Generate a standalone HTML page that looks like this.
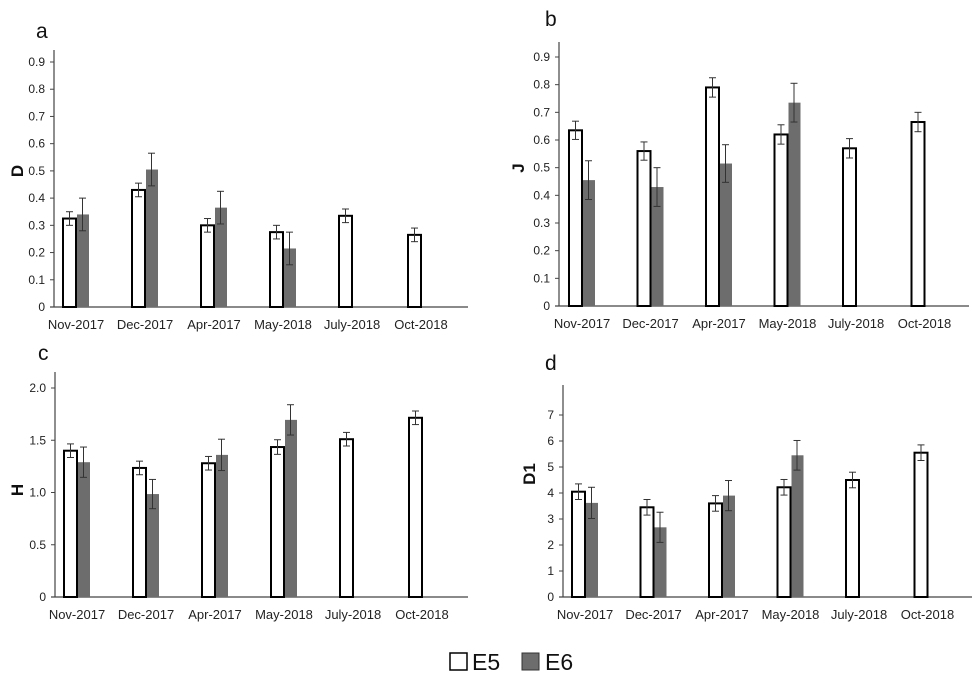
<!DOCTYPE html>
<html><head><meta charset="utf-8"><style>
body{margin:0;background:#fff}
svg{display:block;font-family:"Liberation Sans",sans-serif}
</style></head><body>
<svg id="chart" width="975" height="682" viewBox="0 0 975 682"></svg>
<script>
const categories=["Nov-2017","Dec-2017","Apr-2017","May-2018","July-2018","Oct-2018"];
const aE5=[0.325,0.43,0.30,0.275,0.335,0.265];
const aE5err=[0.025,0.025,0.025,0.025,0.025,0.025];
const aE6=[0.34,0.505,0.365,0.215];
const aE6err=[0.06,0.06,0.06,0.06];
const aTicks=["0","0.1","0.2","0.3","0.4","0.5","0.6","0.7","0.8","0.9"];
const bE5=[0.635,0.56,0.79,0.62,0.57,0.665];
const bE5err=[0.033,0.033,0.035,0.035,0.035,0.035];
const bE6=[0.455,0.43,0.515,0.735];
const bE6err=[0.07,0.07,0.068,0.07];
const bTicks=["0","0.1","0.2","0.3","0.4","0.5","0.6","0.7","0.8","0.9"];
const cE5=[1.40,1.235,1.28,1.435,1.51,1.715];
const cE5err=[0.065,0.065,0.065,0.07,0.065,0.065];
const cE6=[1.29,0.985,1.36,1.695];
const cE6err=[0.145,0.14,0.15,0.145];
const cTicks=["0","0.5","1.0","1.5","2.0"];
const dE5=[4.05,3.45,3.6,4.22,4.5,5.55];
const dE5err=[0.3,0.3,0.3,0.3,0.3,0.3];
const dE6=[3.62,2.68,3.9,5.45];
const dE6err=[0.6,0.58,0.58,0.57];
const dTicks=["0","1","2","3","4","5","6","7"];

const svg=document.getElementById('chart');
const NS='http://www.w3.org/2000/svg';
function mk(tag,attrs,parent){const e=document.createElementNS(NS,tag);for(const k in attrs)e.setAttribute(k,attrs[k]);(parent||svg).appendChild(e);return e;}

function panel(o){
  const g=mk('g',{});
  
  
  const y=v=>o.base-(v-0)/(o.tv-0)*(o.base-o.ty);
  const x=i=>o.x0+i*o.step;
  const ax=mk('line',{x1:o.ax,y1:o.top,x2:o.ax,y2:o.base,stroke:'#444','stroke-width':1.2},g);
  
  const bx=mk('line',{x1:o.ax-4,y1:o.base,x2:o.end,y2:o.base,stroke:'#444','stroke-width':1.2},g);
  
  o.ticks.forEach((t,i)=>{
    const v=parseFloat(t);const yy=y(v);
    mk('line',{x1:o.ax-4,y1:yy,x2:o.ax,y2:yy,stroke:'#444'},g);
    const tx=mk('text',{x:o.ax-9,y:yy+4,'text-anchor':'end','font-size':12,fill:'#222'},g);
    tx.textContent=t;
    
  });
  categories.forEach((c,i)=>{
    const tx=mk('text',{x:x(i)+13,y:o.lab,'text-anchor':'middle','font-size':13,fill:'#222'},g);
    tx.textContent=c;
    
  });
  const W=13;
  function err(cx,v,e){
    mk('line',{x1:cx,y1:y(v+e),x2:cx,y2:y(v-e),stroke:'#333','stroke-width':1},g);
    mk('line',{x1:cx-3.5,y1:y(v+e),x2:cx+3.5,y2:y(v+e),stroke:'#333','stroke-width':1},g);
    mk('line',{x1:cx-3.5,y1:y(v-e),x2:cx+3.5,y2:y(v-e),stroke:'#333','stroke-width':1},g);
  }
  o.e5.forEach((v,i)=>{
    const r=mk('rect',{x:x(i),y:y(v),width:W,height:o.base-y(v),fill:'#fff',stroke:'#000','stroke-width':2},g);
    
    err(x(i)+W/2,v,o.e5e[i]);
  });
  o.e6.forEach((v,i)=>{
    const r=mk('rect',{x:x(i)+W+1,y:y(v),width:W-1,height:o.base-y(v),fill:'#6d6d6d',stroke:'none'},g);
    
    err(x(i)+W+W/2,v,o.e6e[i]);
  });
  const pl=mk('text',{x:o.px,y:o.py,'font-size':21,fill:'#111'},g);
  pl.textContent=o.id;
  const yl=mk('text',{x:0,y:0,'font-size':17,'font-weight':'bold','text-anchor':'middle',fill:'#111',transform:`translate(${o.yx},${o.yy}) rotate(-90)`},g);
  yl.textContent=o.yt;
}
panel({id:'a',ax:54,top:50,base:307,end:468,ty:62,tv:0.9,ticks:aTicks,x0:63,step:69,lab:329,e5:aE5,e5e:aE5err,e6:aE6,e6e:aE6err,px:36,py:38,yx:23,yy:171,yt:'D'});
panel({id:'b',ax:559,top:42,base:306,end:969,ty:57,tv:0.9,ticks:bTicks,x0:569,step:68.5,lab:328,e5:bE5,e5e:bE5err,e6:bE6,e6e:bE6err,px:545,py:26,yx:524,yy:168,yt:'J'});
panel({id:'c',ax:55,top:372,base:597,end:468,ty:388,tv:2.0,ticks:cTicks,x0:64,step:69,lab:619,e5:cE5,e5e:cE5err,e6:cE6,e6e:cE6err,px:38,py:360,yx:23,yy:490,yt:'H'});
panel({id:'d',ax:563,top:385,base:597,end:972,ty:415,tv:7,ticks:dTicks,x0:572,step:68.5,lab:619,e5:dE5,e5e:dE5err,e6:dE6,e6e:dE6err,px:545,py:370,yx:535,yy:474,yt:'D1'});

const lg=mk('g',{});

const l1=mk('rect',{x:450,y:653,width:17,height:17,fill:'#fff',stroke:'#000','stroke-width':1.5},lg);

const t1=mk('text',{x:472,y:670,'font-size':23,fill:'#111'},lg);t1.textContent='E5';

const l2=mk('rect',{x:522,y:653,width:17,height:17,fill:'#6d6d6d',stroke:'#333','stroke-width':1},lg);

const t2=mk('text',{x:545,y:670,'font-size':23,fill:'#111'},lg);t2.textContent='E6';

</script>
</body></html>
